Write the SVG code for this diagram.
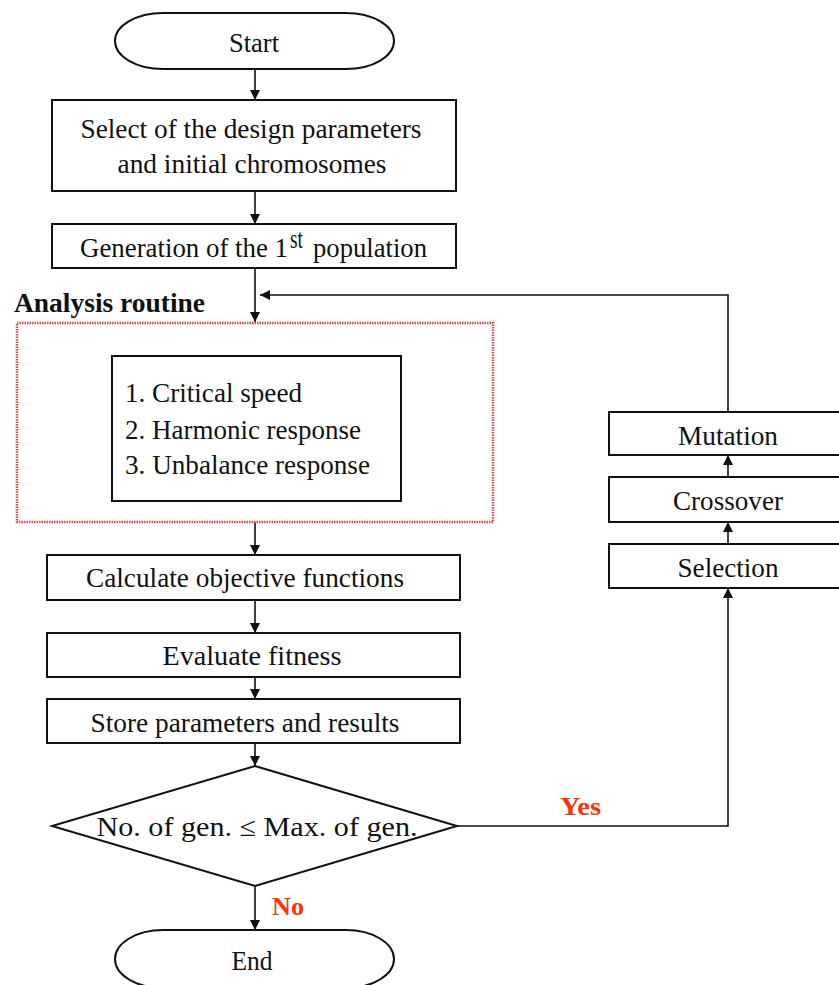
<svg xmlns="http://www.w3.org/2000/svg" width="839" height="985" viewBox="0 0 839 985">
<style>
.box{fill:#fff;stroke:#111;stroke-width:2}
.t{font-family:"Liberation Serif","Times New Roman",serif;font-size:27px;fill:#111;text-anchor:middle}
.tl{font-family:"Liberation Serif","Times New Roman",serif;font-size:27px;fill:#111}
.lbl{font-family:"Liberation Serif","Times New Roman",serif;font-size:26px;font-weight:bold;fill:#ff3300}
.c{fill:none;stroke:#111;stroke-width:1.6}
</style>
<defs>
<marker id="ah" viewBox="0 0 10 10" refX="10" refY="5" markerWidth="12" markerHeight="10" markerUnits="userSpaceOnUse" orient="auto">
<path d="M0,0 L10,5 L0,10 z" fill="#111"/>
</marker>
</defs>
<rect width="839" height="985" fill="#fff"/>
<g id="connectors">
<line class="c" x1="255" y1="69" x2="255" y2="100" marker-end="url(#ah)"/>
<line class="c" x1="255" y1="191" x2="255" y2="224" marker-end="url(#ah)"/>
<line class="c" x1="255" y1="268" x2="255" y2="322" marker-end="url(#ah)"/>
<polyline class="c" points="728,412 728,295 260,295" marker-end="url(#ah)"/>
<line class="c" x1="255" y1="522" x2="255" y2="555" marker-end="url(#ah)"/>
<line class="c" x1="255" y1="600" x2="255" y2="633" marker-end="url(#ah)"/>
<line class="c" x1="255" y1="677" x2="255" y2="699" marker-end="url(#ah)"/>
<line class="c" x1="255" y1="743" x2="255" y2="766" marker-end="url(#ah)"/>
<polyline class="c" points="457,826 728,826 728,588" marker-end="url(#ah)"/>
<line class="c" x1="728" y1="544" x2="728" y2="522" marker-end="url(#ah)"/>
<line class="c" x1="728" y1="477" x2="728" y2="455" marker-end="url(#ah)"/>
<line class="c" x1="255" y1="886" x2="255" y2="930" marker-end="url(#ah)"/>
<text class="lbl" x="560" y="815" textLength="41" lengthAdjust="spacingAndGlyphs">Yes</text>
<text class="lbl" x="272" y="915" textLength="32" lengthAdjust="spacingAndGlyphs">No</text>
</g>
<g id="start">
<rect class="box" x="115" y="13" width="279" height="56" rx="48" ry="28"/>
<text class="t" x="254" y="52" textLength="50" lengthAdjust="spacingAndGlyphs">Start</text>
</g>
<g id="select">
<rect class="box" x="52" y="100" width="404" height="91"/>
<text class="t" x="251" y="138" textLength="341" lengthAdjust="spacingAndGlyphs">Select of the design parameters</text>
<text class="t" x="252" y="173" textLength="269" lengthAdjust="spacingAndGlyphs">and initial chromosomes</text>
</g>
<g id="generation">
<rect class="box" x="52" y="224" width="404" height="44"/>
<text class="tl" x="80" y="257" textLength="208" lengthAdjust="spacingAndGlyphs">Generation of the 1</text>
<text class="tl" x="290" y="248" font-size="16" textLength="13" lengthAdjust="spacingAndGlyphs">st</text>
<text class="tl" x="313" y="257" textLength="114" lengthAdjust="spacingAndGlyphs">population</text>
</g>
<g id="analysis">
<text x="14" y="312" font-family="'Liberation Serif','Times New Roman',serif" font-size="28" font-weight="bold" fill="#111" textLength="191" lengthAdjust="spacingAndGlyphs">Analysis routine</text>
<rect x="17" y="323" width="476" height="199" fill="none" stroke="#e84a4a" stroke-width="2.5" stroke-dasharray="1.5 1"/>
</g>
<g id="analysis-list">
<rect class="box" x="112" y="356" width="289" height="145"/>
<text class="tl" x="125" y="402" textLength="177" lengthAdjust="spacingAndGlyphs">1. Critical speed</text>
<text class="tl" x="125" y="439" textLength="236" lengthAdjust="spacingAndGlyphs">2. Harmonic response</text>
<text class="tl" x="125" y="474" textLength="245" lengthAdjust="spacingAndGlyphs">3. Unbalance response</text>
</g>
<g id="calculate">
<rect class="box" x="47" y="555" width="413" height="45"/>
<text class="t" x="245" y="587" textLength="318" lengthAdjust="spacingAndGlyphs">Calculate objective functions</text>
</g>
<g id="evaluate">
<rect class="box" x="47" y="633" width="413" height="44"/>
<text class="t" x="252" y="665" textLength="179" lengthAdjust="spacingAndGlyphs">Evaluate  fitness</text>
</g>
<g id="store">
<rect class="box" x="47" y="699" width="413" height="44"/>
<text class="t" x="245" y="732" textLength="309" lengthAdjust="spacingAndGlyphs">Store parameters and results</text>
</g>
<g id="decision">
<polygon class="box" points="255,766 457,826 255,886 52,826"/>
<text class="t" x="257" y="836" textLength="321" lengthAdjust="spacingAndGlyphs">No. of gen.  ≤  Max. of gen.</text>
</g>
<g id="end">
<rect class="box" x="115" y="930" width="279" height="58" rx="48" ry="29"/>
<text class="t" x="252" y="970" textLength="41" lengthAdjust="spacingAndGlyphs">End</text>
</g>
<g id="mutation">
<rect class="box" x="609" y="412" width="240" height="43"/>
<text class="t" x="728" y="445" textLength="100" lengthAdjust="spacingAndGlyphs">Mutation</text>
</g>
<g id="crossover">
<rect class="box" x="609" y="477" width="240" height="45"/>
<text class="t" x="728" y="510" textLength="110" lengthAdjust="spacingAndGlyphs">Crossover</text>
</g>
<g id="selection">
<rect class="box" x="609" y="544" width="240" height="44"/>
<text class="t" x="728" y="577" textLength="101" lengthAdjust="spacingAndGlyphs">Selection</text>
</g>
</svg>
